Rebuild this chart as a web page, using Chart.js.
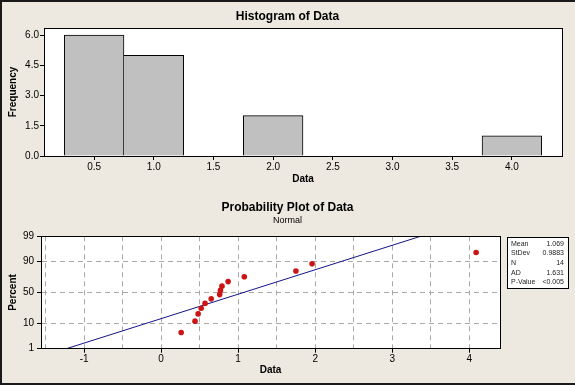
<!DOCTYPE html>
<html>
<head>
<meta charset="utf-8">
<script src="https://cdn.jsdelivr.net/npm/chart.js@4.4.1/dist/chart.umd.min.js"></script>
<style>
  body { margin: 0; background: #EDE9E0; }
  #wrap { position: relative; width: 575px; height: 385px; overflow: hidden; }
  canvas { position: absolute; left: 0; }
  #histChart { top: 0; }
  #probChart { top: 192px; }
  #edge { position: absolute; left: 0; top: 0; width: 575px; height: 385px; box-sizing: border-box;
    border-left: 2px solid #1a1a1a; border-top: 2px solid #1a1a1a; border-bottom: 2px solid #1a1a1a; pointer-events: none; }
</style>
</head>
<body>
<div id="wrap">
  <canvas id="histChart" width="575" height="192"></canvas>
  <canvas id="probChart" width="575" height="193"></canvas>
  <div id="edge"></div>
</div>
<script>
// histogram
const binCenters = [0.5, 1.0, 1.5, 2.0, 2.5, 3.0, 3.5, 4.0];
const binCounts = [6, 5, 0, 2, 0, 0, 0, 1];
const freqTicks = [0, 1.5, 3.0, 4.5, 6.0];

// probability plot
const sampleData = [0.26, 0.44, 0.48, 0.52, 0.57, 0.65, 0.76, 0.77, 0.79, 0.87, 1.08, 1.75, 1.96, 4.09];
const samplePercent = [4.9, 11.8, 18.8, 25.7, 32.6, 39.6, 46.5, 53.5, 60.4, 67.4, 74.3, 81.3, 88.2, 95.1];
const percentTicks = [1, 10, 50, 90, 99];
const probXTicks = [-1.5, -1, -0.5, 0, 0.5, 1, 1.5, 2, 2.5, 3, 3.5, 4];
const probXLabels = [-1, 0, 1, 2, 3, 4];
const statLabels = ['Mean', 'StDev', 'N', 'AD', 'P-Value'];
const statValues = ['1.069', '0.9883', '14', '1.631', '<0.005'];
const fitMean = 1.069;
const fitStDev = 0.9883;

Chart.defaults.font.family = '"Liberation Sans", Arial, sans-serif';
Chart.defaults.color = '#000';

// inverse normal cdf, used for the percent axis
function probit(p) {
  const a = [-3.969683028665376e+01, 2.209460984245205e+02, -2.759285104469687e+02, 1.383577518672690e+02, -3.066479806614716e+01, 2.506628277459239e+00];
  const b = [-5.447609879822406e+01, 1.615858368580409e+02, -1.556989798598866e+02, 6.680131188771972e+01, -1.328068155288572e+01];
  const c = [-7.784894002430293e-03, -3.223964580411365e-01, -2.400758277161838e+00, -2.549732539343734e+00, 4.374664141464968e+00, 2.938163982698783e+00];
  const d = [7.784695709041462e-03, 3.224671290700398e-01, 2.445134137142996e+00, 3.754408661907416e+00];
  const pl = 0.02425;
  let q, r;
  if (p < pl) {
    q = Math.sqrt(-2 * Math.log(p));
    return (((((c[0]*q+c[1])*q+c[2])*q+c[3])*q+c[4])*q+c[5]) / ((((d[0]*q+d[1])*q+d[2])*q+d[3])*q+1);
  }
  if (p > 1 - pl) {
    q = Math.sqrt(-2 * Math.log(1 - p));
    return -(((((c[0]*q+c[1])*q+c[2])*q+c[3])*q+c[4])*q+c[5]) / ((((d[0]*q+d[1])*q+d[2])*q+d[3])*q+1);
  }
  q = p - 0.5; r = q * q;
  return (((((a[0]*r+a[1])*r+a[2])*r+a[3])*r+a[4])*r+a[5])*q / (((((b[0]*r+b[1])*r+b[2])*r+b[3])*r+b[4])*r+1);
}

const plotFrame = {
  id: 'plotFrame',
  beforeDraw(chart) {
    const { ctx, chartArea: a } = chart;
    ctx.save();
    ctx.fillStyle = '#fff';
    ctx.fillRect(a.left, a.top, a.right - a.left, a.bottom - a.top);
    ctx.restore();
  },
  afterDatasetsDraw(chart) {
    const { ctx, chartArea: a } = chart;
    ctx.save();
    ctx.strokeStyle = '#000';
    ctx.lineWidth = 1;
    ctx.strokeRect(Math.round(a.left) + 0.5, Math.round(a.top) + 0.5, Math.round(a.right - a.left), Math.round(a.bottom - a.top));
    ctx.restore();
  }
};

const statsBox = {
  id: 'statsBox',
  afterDraw(chart) {
    const { ctx } = chart;
    const x = 507, y = 45, w = 61, h = 51;
    ctx.save();
    ctx.fillStyle = '#fff';
    ctx.fillRect(x, y, w, h);
    ctx.strokeStyle = '#000';
    ctx.lineWidth = 1;
    ctx.strokeRect(x + 0.5, y + 0.5, w, h);
    ctx.font = '7px "Liberation Sans"';
    ctx.fillStyle = '#222';
    ctx.textBaseline = 'middle';
    statLabels.forEach((lab, i) => {
      const ty = y + 6.6 + i * 9.7;
      ctx.textAlign = 'left';
      ctx.fillText(lab, x + 4, ty);
      ctx.textAlign = 'right';
      ctx.fillText(statValues[i], x + w - 4, ty);
    });
    ctx.restore();
  }
};

const axisFont = { size: 10 };
const axisTitleFont = { size: 10, weight: 'bold' };

new Chart(document.getElementById('histChart'), {
  type: 'bar',
  data: {
    datasets: [{
      data: binCenters.map((c, i) => ({ x: c, y: binCounts[i] || null })),
      backgroundColor: '#C0C0C0',
      borderColor: '#000',
      borderWidth: (ctx) => ({ top: 1, right: 1, bottom: 0, left: binCounts[ctx.dataIndex - 1] ? 0 : 1 }),
      borderSkipped: 'start',
      categoryPercentage: 1,
      barPercentage: 1,
      xAxisID: 'x',
      yAxisID: 'y'
    }]
  },
  options: {
    responsive: false,
    animation: false,
    layout: { padding: 0 },
    plugins: {
      legend: { display: false },
      tooltip: { enabled: false },
      title: {
        display: true,
        text: 'Histogram of Data',
        font: { size: 12, weight: 'bold' },
        color: '#000',
        padding: { top: 9.5, bottom: 4.1 }
      }
    },
    scales: {
      x: {
        type: 'linear',
        min: 0.08,
        max: 4.42,
        offset: false,
        afterBuildTicks: (s) => { s.ticks = binCenters.map(v => ({ value: v })); },
        ticks: { callback: (v) => Number(v).toFixed(1), font: axisFont, padding: 1, autoSkip: false, maxRotation: 0 },
        grid: { drawOnChartArea: false, offset: false, tickLength: 4, color: '#000' },
        border: { color: '#000' },
        title: { display: true, text: 'Data', font: axisTitleFont, color: '#000', padding: { top: 0, bottom: 7 } },
        afterFit: (s) => { s.height = 36; }
      },
      y: {
        type: 'linear',
        min: 0,
        max: 6.35,
        afterBuildTicks: (s) => { s.ticks = freqTicks.map(v => ({ value: v })); },
        ticks: { callback: (v) => Number(v).toFixed(1), font: axisFont, padding: 1 },
        grid: { drawOnChartArea: false, tickLength: 4, color: '#000' },
        border: { color: '#000' },
        title: { display: true, text: 'Frequency', font: axisTitleFont, color: '#000', padding: { top: 7.5, bottom: 0 } },
        afterFit: (s) => { s.width = 44; }
      },
      pad: {
        axis: 'y', type: 'linear', position: 'right', display: true,
        ticks: { display: false }, grid: { display: false }, border: { display: false },
        afterFit: (s) => { s.width = 13; }
      }
    }
  },
  plugins: [plotFrame]
});

const zLo = probit(percentTicks[0] / 100);
const zHi = probit(percentTicks[percentTicks.length - 1] / 100);
const fitLine = [zLo, zHi].map(z => ({ x: fitMean + z * fitStDev, y: z }));

new Chart(document.getElementById('probChart'), {
  type: 'scatter',
  data: {
    datasets: [{
      type: 'scatter',
      data: sampleData.map((v, i) => ({ x: v, y: probit(samplePercent[i] / 100) })),
      backgroundColor: '#CC1414',
      borderColor: '#CC1414',
      borderWidth: 0,
      pointRadius: 2.8,
      xAxisID: 'x',
      yAxisID: 'y'
    }, {
      type: 'line',
      data: fitLine,
      borderColor: '#14148A',
      borderWidth: 1,
      pointRadius: 0,
      fill: false,
      xAxisID: 'x',
      yAxisID: 'y'
    }]
  },
  options: {
    responsive: false,
    animation: false,
    layout: { padding: 0 },
    plugins: {
      legend: { display: false },
      tooltip: { enabled: false },
      title: {
        display: true,
        text: 'Probability Plot of Data',
        font: { size: 12, weight: 'bold' },
        color: '#000',
        padding: { top: 8.8, bottom: 0 }
      },
      subtitle: {
        display: true,
        text: 'Normal',
        font: { size: 9 },
        color: '#000',
        padding: { top: 0, bottom: 10.3 }
      }
    },
    scales: {
      x: {
        type: 'linear',
        min: -1.56,
        max: 4.40,
        afterBuildTicks: (s) => { s.ticks = probXTicks.map(v => ({ value: v })); },
        ticks: {
          callback: (v) => probXLabels.includes(Number(v)) ? String(v) : '',
          font: axisFont, padding: 1, autoSkip: false, maxRotation: 0
        },
        grid: {
          color: '#A8A8A8', tickLength: 4,
          tickColor: (ctx) => ctx.tick && probXLabels.includes(ctx.tick.value) ? '#000' : 'rgba(0,0,0,0)'
        },
        border: { color: '#000', dash: [5, 4] },
        title: { display: true, text: 'Data', font: axisTitleFont, color: '#000', padding: { top: 0, bottom: 8.3 } },
        afterFit: (s) => { s.height = 36.3; }
      },
      y: {
        type: 'linear',
        min: zLo,
        max: zHi,
        afterBuildTicks: (s) => { s.ticks = percentTicks.map(p => ({ value: probit(p / 100) })); },
        ticks: { callback: (v, i) => String(percentTicks[i]), font: axisFont, padding: 3 },
        grid: { color: '#A8A8A8', tickLength: 4, tickColor: '#000' },
        border: { color: '#000', dash: [5, 4] },
        title: { display: true, text: 'Percent', font: axisTitleFont, color: '#000', padding: { top: 7, bottom: 0 } },
        afterFit: (s) => { s.width = 41; }
      },
      pad: {
        axis: 'y', type: 'linear', position: 'right', display: true,
        ticks: { display: false }, grid: { display: false }, border: { display: false },
        afterFit: (s) => { s.width = 75; }
      }
    }
  },
  plugins: [plotFrame, statsBox]
});
</script>
</body>
</html>
